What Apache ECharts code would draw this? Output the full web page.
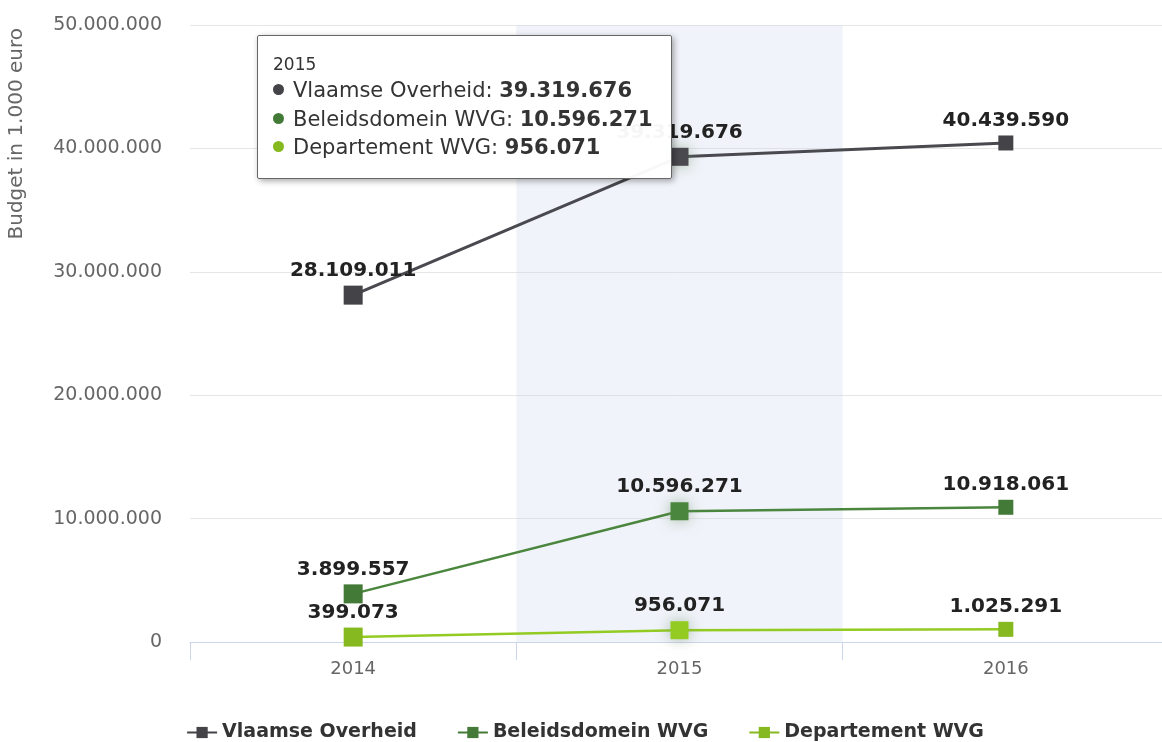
<!DOCTYPE html>
<html>
<head>
<meta charset="utf-8">
<script src="https://cdn.jsdelivr.net/npm/echarts@6/dist/echarts.min.js"></script>
<style>
  html, body { margin: 0; padding: 0; background: #fff; overflow: hidden; }
  #chart { width: 1170px; height: 742px; }
</style>
</head>
<body>
<div id="chart"></div>
<script>
// data
var years = ['2014', '2015', '2016'];
var vlaamseOverheid = [28109011, 39319676, 40439590];
var beleidsdomeinWVG = [3899557, 10596271, 10918061];
var departementWVG = [399073, 956071, 1025291];
var yTicks = [0, 10000000, 20000000, 30000000, 40000000, 50000000];

var markerSizes = [19, 18, 15];
var kleuren = ['#434348', '#447a38', '#86b91f'];

// 1.000.000 notatie
function punt(v) {
    return String(v).replace(/\B(?=(\d{3})+(?!\d))/g, '.');
}

function reeks(naam, data, kleur, breedte) {
    return {
        name: naam,
        type: 'line',
        z: 3,
        data: data,
        symbol: 'rect',
        symbolSize: function (val, p) { return markerSizes[p.dataIndex]; },
        itemStyle: { color: kleur },
        lineStyle: { color: kleur, width: breedte },
        label: {
            show: true,
            position: 'top',
            distance: 5,
            color: '#222',
            fontWeight: 'bold',
            fontSize: 20,
            fontFamily: 'DejaVu Sans',
            formatter: function (p) { return punt(p.value); }
        },
        emphasis: {
            scale: false,
            label: { color: '#222' },
            itemStyle: { shadowBlur: 14, shadowColor: 'rgba(110,140,100,0.55)' }
        }
    };
}

var chart = echarts.init(document.getElementById('chart'));

chart.setOption({
    animation: false,
    backgroundColor: '#fff',
    textStyle: { fontFamily: 'DejaVu Sans' },
    grid: { left: 190, top: 25, right: 1, bottom: 100 },
    graphic: [{
        type: 'text',
        left: 7,
        top: 28,
        rotation: Math.PI / 2,
        style: {
            text: 'Budget in 1.000 euro',
            fill: '#666',
            font: '20px "DejaVu Sans"'
        }
    }],
    tooltip: {
        trigger: 'axis',
        triggerOn: 'none',
        alwaysShowContent: true,
        position: [257, 35],
        backgroundColor: 'rgba(255,255,255,0.96)',
        borderColor: '#666',
        borderWidth: 1,
        borderRadius: 2,
        padding: [18, 18, 16, 15],
        extraCssText: 'box-shadow: 2px 2px 6px rgba(0,0,0,0.35);',
        axisPointer: {
            type: 'shadow',
            z: 0,
            shadowStyle: { color: 'rgba(204,214,235,0.3)' }
        },
        formatter: function (ps) {
            var html = '<div style="font-family:DejaVu Sans;color:#333;font-size:17px;line-height:20px;margin-bottom:2px">' + ps[0].axisValue + '</div>';
            ps.forEach(function (p) {
                html += '<div style="font-family:DejaVu Sans;color:#333;font-size:21px;line-height:28.5px">' +
                    '<span style="display:inline-block;width:11px;height:11px;border-radius:6px;background:' + p.color + ';margin-right:9px;vertical-align:2px"></span>' +
                    p.seriesName + ': <b>' + punt(p.value) + '</b></div>';
            });
            return html;
        }
    },
    legend: {
        bottom: -5,
        left: 'center',
        itemGap: 40,
        itemWidth: 30,
        itemHeight: 14,
        textStyle: { color: '#333', fontWeight: 'bold', fontSize: 19, fontFamily: 'DejaVu Sans' },
        data: ['Vlaamse Overheid', 'Beleidsdomein WVG', 'Departement WVG']
    },
    xAxis: {
        type: 'category',
        data: years,
        boundaryGap: true,
        axisLine: { lineStyle: { color: '#ccd6eb', width: 1 } },
        axisTick: { show: true, length: 18, lineStyle: { color: '#ccd6eb' } },
        axisLabel: { color: '#666', fontSize: 18, margin: 18 }
    },
    yAxis: {
        type: 'value',
        min: yTicks[0],
        max: yTicks[yTicks.length - 1],
        interval: 10000000,
        axisLine: { show: false },
        axisTick: { show: false },
        splitLine: { lineStyle: { color: '#e6e6e6' } },
        axisLabel: {
            color: '#666',
            fontSize: 19,
            margin: 28,
            formatter: function (v) { return punt(v); }
        }
    },
    series: [
        reeks('Vlaamse Overheid', vlaamseOverheid, kleuren[0], 3),
        reeks('Beleidsdomein WVG', beleidsdomeinWVG, kleuren[1], 2.5),
        reeks('Departement WVG', departementWVG, kleuren[2], 2.5)
    ]
});

chart.dispatchAction({ type: 'showTip', seriesIndex: 0, dataIndex: 1 });
</script>
</body>
</html>
